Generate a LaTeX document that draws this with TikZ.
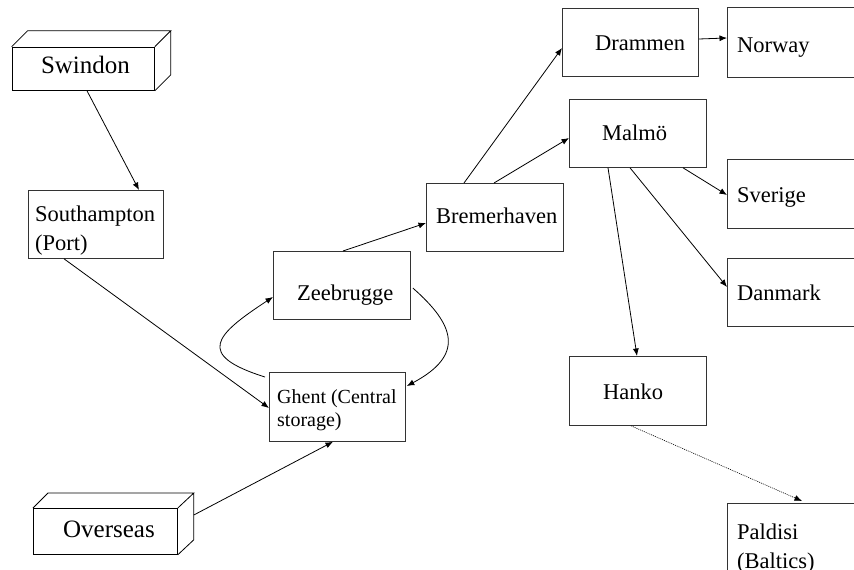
\documentclass[tikz,border=0pt]{standalone}
\usepackage{fontspec}
\setmainfont{Liberation Serif}
\usetikzlibrary{arrows.meta}
\newcommand\txtA{\fontsize{22.5}{29}\selectfont}
\newcommand\txtB{\fontsize{25}{30}\selectfont}
\newcommand\txtC{\fontsize{20}{22.5}\selectfont}
\tikzset{
  boxnode/.style={draw=black!80, line width=0.8pt, inner sep=0pt, anchor=north west},
  cubeface/.style={draw=black, line width=0.8pt},
  lbl/.style={inner sep=0pt, font=\txtA},
  conn/.style={line width=0.8pt, -{Latex[length=7.5pt,width=6pt]}},
  dotconn/.style={line width=0.6pt, dash pattern=on 1pt off 1pt, -{Latex[length=7.5pt,width=6pt]}}
}
\begin{document}
\begin{tikzpicture}[x=1pt,y=-1pt]
\useasboundingbox (0,0) rectangle (854,570);
\clip (0,0) rectangle (854,570);
\fill[white] (0,0) rectangle (854,570);

% 3D boxes
\node[boxnode, draw=black, minimum width=142.3pt, minimum height=43.3pt] (swi) at (11.7,46.7) {};
\draw[cubeface] (swi.north west) -- ([xshift=16pt,yshift=16pt]swi.north west) -- ([xshift=16pt,yshift=16pt]swi.north east) -- (swi.north east)
  ([xshift=16pt,yshift=16pt]swi.north east) -- ([xshift=16pt,yshift=16pt]swi.south east) -- (swi.south east);
\node[lbl, font=\txtB, anchor=base] (tswi) at (85.5,73) {Swindon};

\node[boxnode, draw=black, minimum width=144pt, minimum height=46pt] (ovs) at (33,508) {};
\draw[cubeface] (ovs.north west) -- ([xshift=15pt,yshift=15pt]ovs.north west) -- ([xshift=16pt,yshift=15pt]ovs.north east) -- (ovs.north east)
  ([xshift=16pt,yshift=15pt]ovs.north east) -- ([xshift=16pt,yshift=15pt]ovs.south east) -- (ovs.south east);
\node[lbl, font=\txtB, anchor=base] (tovs) at (109,537) {Overseas};

% flat boxes
\node[boxnode, minimum width=135.3pt, minimum height=68pt] (sou) at (27.7,190) {};
\node[boxnode, minimum width=137pt, minimum height=68pt] (zee) at (273,251) {};
\node[boxnode, minimum width=136pt, minimum height=69pt] (gh) at (269,372) {};
\node[boxnode, minimum width=137pt, minimum height=68pt] (bre) at (426,183) {};
\node[boxnode, minimum width=136pt, minimum height=68pt] (dra) at (562,8) {};
\node[boxnode, minimum width=137pt, minimum height=68pt] (mal) at (569,99) {};
\node[boxnode, minimum width=150pt, minimum height=70pt] (nor) at (727,7) {};
\node[boxnode, minimum width=150pt, minimum height=69pt] (sve) at (727,159) {};
\node[boxnode, minimum width=150pt, minimum height=68pt] (dan) at (727,258) {};
\node[boxnode, minimum width=137pt, minimum height=69pt] (han) at (569,356) {};
\node[boxnode, minimum width=150pt, minimum height=100pt] (pal) at (727,503) {};

% labels
\node[lbl, anchor=north west, align=left] (tsou) at (35,205.6) {Southampton\\(Port)};
\node[lbl, anchor=base west] (tzee) at (297,300) {Zeebrugge};
\node[lbl, font=\txtC, anchor=north west, align=left] (tgh) at (277,389.5) {Ghent (Central\\storage)};
\node[lbl, anchor=base west] (tbre) at (436,223) {Bremerhaven};
\node[lbl, anchor=base west] (tdra) at (595,50) {Drammen};
\node[lbl, anchor=base west] (tmal) at (602,140) {Malmö};
\node[lbl, anchor=base west] (tnor) at (737,52) {Norway};
\node[lbl, anchor=base west] (tsve) at (737,202) {Sverige};
\node[lbl, anchor=base west] (tdan) at (737,300) {Danmark};
\node[lbl, anchor=base west] (than) at (603,399) {Hanko};
\node[lbl, anchor=north west, align=left] (tpal) at (737,523.6) {Paldisi\\(Baltics)};

% connectors
\draw[conn] ([xshift=75.3pt]swi.south west) -- ([xshift=111.3pt]sou.north west);
\draw[conn] ([xshift=36.3pt]sou.south west) -- ([yshift=-36pt]gh.north west);
\draw[conn] ([xshift=16pt,yshift=-7pt]ovs.north east) -- ([xshift=64pt]gh.south west);
\draw[conn] ([xshift=-4pt,yshift=-5pt]gh.north west) .. controls (195,355) and (215,335) .. ([yshift=-46pt]zee.north west);
\draw[conn] ([xshift=2pt,yshift=-37pt]zee.north east) .. controls (455,325) and (465,355) .. ([xshift=1pt,yshift=-14pt]gh.north east);
\draw[conn] ([xshift=70pt]zee.north west) -- ([yshift=-40pt]bre.north west);
\draw[conn] ([xshift=38pt]bre.north west) -- ([yshift=-40pt]dra.north west);
\draw[conn] ([xshift=68pt]bre.north west) -- ([yshift=-39pt]mal.north west);
\draw[conn] ([yshift=-31pt]dra.north east) -- ([yshift=-31pt]nor.north west);
\draw[conn] ([xshift=114pt]mal.south west) -- ([yshift=-36pt]sve.north west);
\draw[conn] ([xshift=61pt]mal.south west) -- ([yshift=-29pt]dan.north west);
\draw[conn] ([xshift=39pt]mal.south west) -- ([xshift=68pt]han.north west);
\draw[dotconn] ([xshift=62pt]han.south west) -- ([xshift=75pt,yshift=2pt]pal.north west);
\end{tikzpicture}
\end{document}
